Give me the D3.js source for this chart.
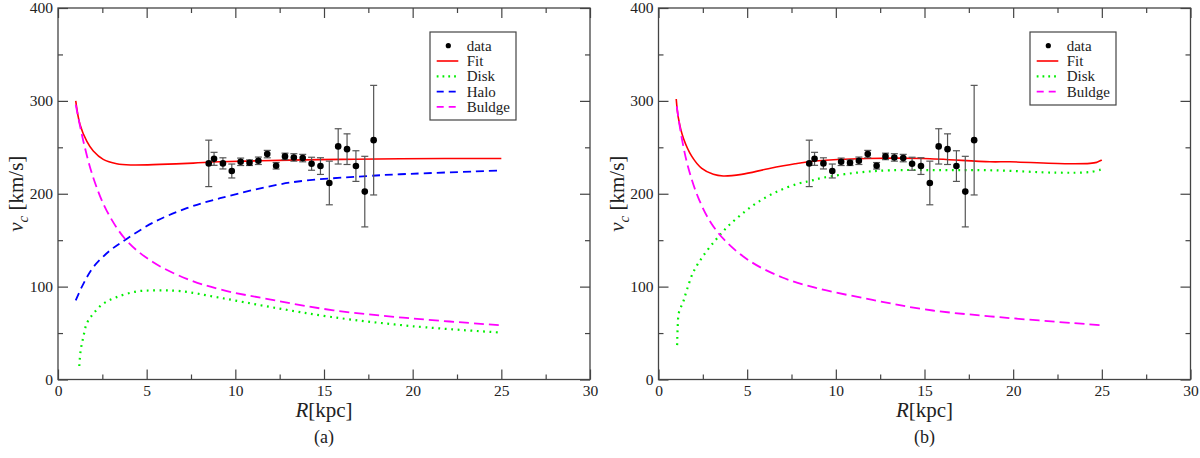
<!DOCTYPE html>
<html>
<head>
<meta charset="utf-8">
<script src="https://cdn.jsdelivr.net/npm/d3@7"></script>
<style>
  body { margin: 0; background: #fff; }
</style>
</head>
<body>
<svg id="chart" width="1200" height="458"></svg>
<script>
// observed rotation curve (same in both panels)
const radius = [8.5, 8.8, 9.3, 9.8, 10.3, 10.8, 11.3, 11.8, 12.3, 12.8, 13.3, 13.8, 14.3, 14.8, 15.3, 15.8, 16.3, 16.8, 17.3, 17.8];
const vObs = [232.7, 237.6, 232.7, 224.5, 234.4, 233.4, 235.5, 242.7, 230.1, 240.2, 239.1, 238.4, 232.3, 229.8, 211.6, 251, 248, 229.8, 202.3, 257.7];
const vErr = [25, 7, 6, 7.5, 4, 3, 4, 4, 3.5, 3.5, 4, 4, 7, 9, 23.5, 19, 16.5, 16.5, 38, 59];

// panel (a) model curves
const fitA_R = [1.0, 1.24, 1.62, 1.99, 2.55, 3.31, 4.16, 5.75, 7.63, 9.14, 13.1, 16, 19.3, 25];
const fitA_v = [300, 274.5, 256.6, 246, 237, 232.3, 231, 231.6, 233, 234.4, 236.2, 237, 237.7, 238];
const diskA_R = [1.2, 1.28, 1.43, 1.62, 1.99, 2.55, 3.31, 4.44, 5.57, 6.88, 9.14, 12, 15.43, 20.04, 25];
const diskA_v = [14.5, 31.6, 45.9, 60.2, 70.9, 81.6, 88.7, 94.8, 95.9, 95.2, 88, 78, 67.3, 57.3, 50.5];
const haloA_R = [1.0, 1.43, 1.99, 2.93, 3.87, 5.37, 7.26, 9.14, 13.08, 17.41, 19.29, 25];
const haloA_v = [85.2, 103, 120.9, 138.8, 151.3, 169, 184.5, 195.2, 212, 219, 221, 225];
const bulgeA_R = [1.0, 1.43, 1.99, 2.75, 3.87, 5.37, 7.26, 9.14, 12, 15.53, 20.04, 25];
const bulgeA_v = [296, 256.6, 217.3, 181.6, 149.5, 126.2, 108.4, 97, 86, 74.5, 65.6, 58.4];

// panel (b) model curves
const fitB_R = [1.0, 1.12, 1.4, 1.87, 2.44, 3.09, 3.65, 4.69, 6.19, 7.7, 8.83, 11.74, 14.93, 18.69, 19.82, 23.2, 24.33, 24.71, 25];
const fitB_v = [302, 281.6, 260, 240.5, 227.3, 220.9, 219.1, 220.9, 227, 232.3, 235.2, 238, 238, 234.4, 234.4, 232.3, 232.7, 233.8, 236.3];
const diskB_R = [1.05, 1.08, 1.15, 1.4, 1.59, 1.96, 2.53, 3.19, 3.85, 4.69, 5.63, 6.76, 7.88, 8.54, 9.29, 11.18, 13.04, 15.86, 18.97, 22.46, 24.33, 25];
const diskB_v = [37, 55, 72, 84, 95.9, 115.5, 133.4, 149.5, 163.7, 178, 191.3, 203, 210.9, 213.8, 217.3, 222.7, 225.2, 225.5, 225.2, 222.7, 223.4, 226.3];
const bulgeB_R = [1.03, 1.31, 1.68, 2.24, 3.0, 3.94, 5.26, 6.95, 8.83, 12, 15, 18.69, 25];
const bulgeB_v = [294, 260, 228, 195.9, 167.4, 146, 126.2, 110.1, 98.8, 86, 75.5, 68, 58.4];

// axes
const xTicks = [0, 5, 10, 15, 20, 25, 30];
const xMinor = [2.5, 7.5, 12.5, 17.5, 22.5, 27.5];
const yTicks = [0, 100, 200, 300, 400];
const yMinor = [50, 150, 250, 350];

const FONT = '"Liberation Serif", "Times New Roman", "DejaVu Serif", serif';

const styles = {
  Fit:    { color: '#ff0000', dash: null, width: 1.6 },
  Disk:   { color: '#00ee00', dash: '1.8,4.6', width: 2.2 },
  Halo:   { color: '#0000ff', dash: '8,5', width: 1.8 },
  Buldge: { color: '#ff00ff', dash: '10,5', width: 1.8 }
};

const panels = [
  {
    left: 58, tag: '(a)',
    curves: [['Fit', fitA_R, fitA_v], ['Disk', diskA_R, diskA_v], ['Halo', haloA_R, haloA_v], ['Buldge', bulgeA_R, bulgeA_v]],
    legend: { x: 430, y: 32, w: 86, h: 88 }
  },
  {
    left: 658.5, tag: '(b)',
    curves: [['Fit', fitB_R, fitB_v], ['Disk', diskB_R, diskB_v], ['Buldge', bulgeB_R, bulgeB_v]],
    legend: { x: 1030, y: 32, w: 86, h: 73 }
  }
];

const marginTop = 8, width = 532, height = 371.5;
const svg = d3.select('#chart');

panels.forEach(p => {
  const g = svg.append('g').attr('transform', `translate(${p.left},${marginTop})`);
  const x = d3.scaleLinear().domain([0, 30]).range([0, width]);
  const y = d3.scaleLinear().domain([0, 400]).range([height, 0]);

  // ticks on all four sides, pointing inward
  const addAxis = (gen, tr, vals, size, labels) => {
    const a = g.append('g').attr('transform', tr)
      .call(gen.tickValues(vals).tickSize(-size).tickPadding(5)
        .tickFormat(labels ? d3.format('d') : ''));
    a.select('.domain').remove();
    a.attr('font-family', FONT);
    a.selectAll('line').attr('stroke', '#444').attr('stroke-width', 1.2);
    a.selectAll('text').style('font-family', FONT).style('font-size', '15.5px').attr('fill', '#222');
  };
  addAxis(d3.axisBottom(x), `translate(0,${height})`, xTicks, 10, true);
  addAxis(d3.axisBottom(x), `translate(0,${height})`, xMinor, 5, false);
  addAxis(d3.axisTop(x), 'translate(0,0)', xTicks, 10, false);
  addAxis(d3.axisTop(x), 'translate(0,0)', xMinor, 5, false);
  addAxis(d3.axisLeft(y), 'translate(0,0)', yTicks, 10, true);
  addAxis(d3.axisLeft(y), 'translate(0,0)', yMinor, 5, false);
  addAxis(d3.axisRight(y), `translate(${width},0)`, yTicks, 10, false);
  addAxis(d3.axisRight(y), `translate(${width},0)`, yMinor, 5, false);

  g.append('rect').attr('width', width).attr('height', height)
    .attr('fill', 'none').attr('stroke', '#444').attr('stroke-width', 1.3);

  // model curves
  const line = d3.line().x(d => x(d[0])).y(d => y(d[1])).curve(d3.curveCatmullRom.alpha(0.5));
  p.curves.forEach(([name, rs, vs]) => {
    const s = styles[name];
    g.append('path')
      .datum(rs.map((r, i) => [r, vs[i]]))
      .attr('d', line)
      .attr('fill', 'none')
      .attr('stroke', s.color)
      .attr('stroke-width', s.width)
      .attr('stroke-dasharray', s.dash);
  });

  // data with error bars
  const pts = radius.map((r, i) => ({ r, v: vObs[i], e: vErr[i] }));
  const eb = g.append('g').attr('stroke', '#555').attr('stroke-width', 1.2);
  eb.selectAll('line.bar').data(pts).enter().append('line')
    .attr('x1', d => x(d.r)).attr('x2', d => x(d.r))
    .attr('y1', d => y(d.v - d.e)).attr('y2', d => y(d.v + d.e));
  [-1, 1].forEach(sgn => {
    eb.selectAll(null).data(pts).enter().append('line')
      .attr('x1', d => x(d.r) - 3.5).attr('x2', d => x(d.r) + 3.5)
      .attr('y1', d => y(d.v + sgn * d.e)).attr('y2', d => y(d.v + sgn * d.e));
  });
  g.selectAll('circle.pt').data(pts).enter().append('circle')
    .attr('cx', d => x(d.r)).attr('cy', d => y(d.v)).attr('r', 3.3).attr('fill', '#000');

  // legend
  const L = p.legend;
  const lg = svg.append('g').attr('transform', `translate(${L.x},${L.y})`);
  lg.append('rect').attr('width', L.w).attr('height', L.h)
    .attr('fill', '#fff').attr('stroke', '#444').attr('stroke-width', 1.2);
  const entries = ['data'].concat(p.curves.map(c => c[0]));
  entries.forEach((name, i) => {
    const cy = 13.7 + i * 15.3;
    if (name === 'data') {
      lg.append('circle').attr('cx', 18.3).attr('cy', cy).attr('r', 2.6).attr('fill', '#000');
    } else {
      const s = styles[name];
      lg.append('line').attr('x1', 6.7).attr('x2', 28.3).attr('y1', cy).attr('y2', cy)
        .attr('stroke', s.color).attr('stroke-width', s.width)
        .attr('stroke-dasharray', name === 'Disk' ? '1.8,4' : (s.dash ? '7,5' : null));
    }
    lg.append('text').attr('x', 36.7).attr('y', cy + 5)
      .style('font-family', FONT).style('font-size', '15px').attr('fill', '#222').text(name);
  });

  // axis titles
  const xt = svg.append('text').attr('x', p.left + width / 2).attr('y', marginTop + height + 37)
    .attr('text-anchor', 'middle').style('font-family', FONT).style('font-size', '21px').attr('fill', '#222');
  xt.append('tspan').attr('font-style', 'italic').text('R');
  xt.append('tspan').text('[kpc]');

  const yt = svg.append('text')
    .attr('transform', `translate(${p.left - 35},${marginTop + height / 2}) rotate(-90)`)
    .attr('text-anchor', 'middle').style('font-family', FONT).style('font-size', '21px').attr('fill', '#222');
  yt.append('tspan').attr('font-style', 'italic').text('v');
  yt.append('tspan').attr('font-style', 'italic').attr('dy', 5).style('font-size', '15px').text('c');
  yt.append('tspan').attr('dy', -5).text(' [km/s]');

  svg.append('text').attr('x', p.left + width / 2).attr('y', 443)
    .attr('text-anchor', 'middle').style('font-family', FONT).style('font-size', '18px')
    .attr('fill', '#222').text(p.tag);
});
</script>
</body>
</html>
